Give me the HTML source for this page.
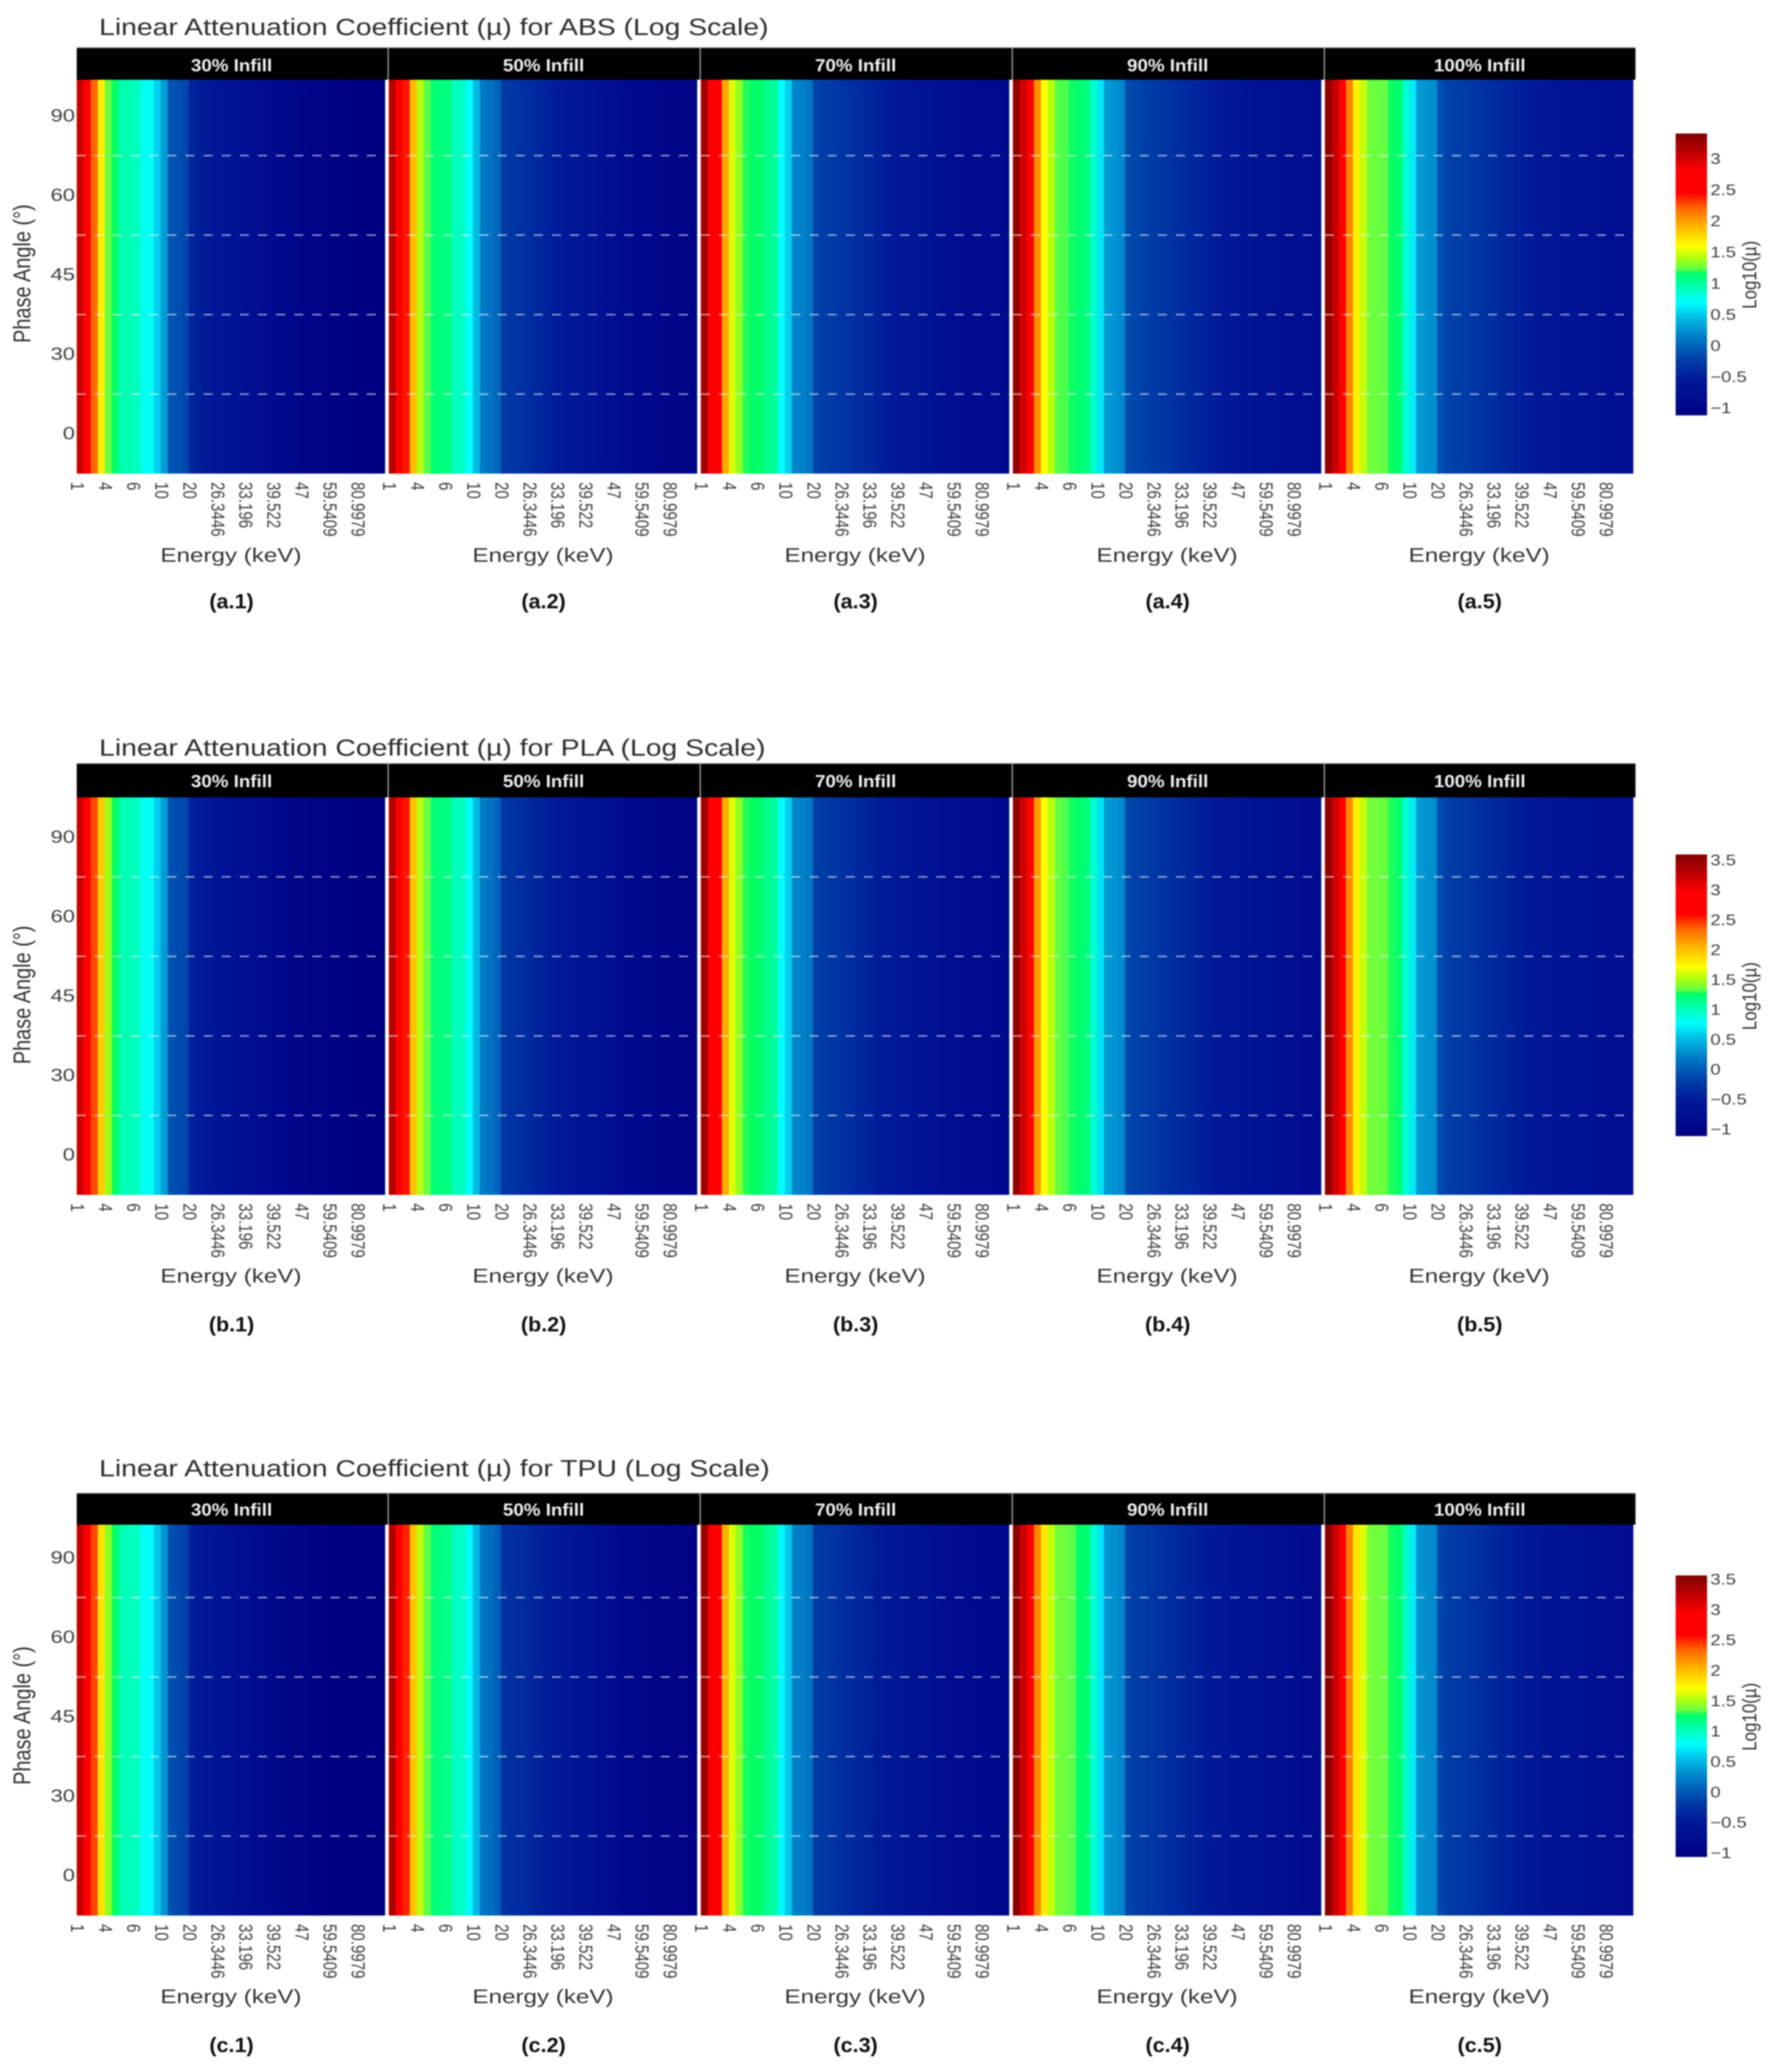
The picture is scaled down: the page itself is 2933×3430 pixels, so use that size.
<!DOCTYPE html>
<html lang="en">
<head>
<meta charset="utf-8">
<title>Linear Attenuation Coefficient heatmaps</title>
<style>
html,body{margin:0;padding:0;background:#fff;}
#figure{display:block;width:2933px;height:3430px;filter:blur(1px);font-family:"Liberation Sans",Arial,sans-serif;}
</style>
</head>
<body>
<svg id="figure" xmlns="http://www.w3.org/2000/svg" width="2933" height="3430" viewBox="0 0 2933 3430">
<rect x="0" y="0" width="2933" height="3430" fill="#ffffff"></rect>
<defs id="defs"></defs>
</svg>
<script>
// ---- categories ----
const infills = ["30% Infill","50% Infill","70% Infill","90% Infill","100% Infill"];
const angles = [0,30,45,60,90];
const energies = [1,1.5,2,3,4,4.5,5,5.5,6,7,8,9,10,12,14,16,20,21.5,23,24.5,26.3446,28,29.5,31.5,33.196,34.5,36,38,39.522,41,43,45,47,50,53,56,59.5409,64,69,75,80.9979,85,90,100];

// ---- log10(mu) by energy (no visible variation with angle) ----
const absInfill30 = [3.04,2.65,2.2,1.66,1.24,1.16,.94,.92,.9,.74,.72,.52,.28,-.1,-.13,-.17,-.46,-.5,-.55,-.6,-.63,-.67,-.7,-.73,-.77,-.8,-.83,-.86,-.89,-.92,-.94,-.96,-.98,-1,-1.02,-1.03,-1.05,-1.06,-1.07,-1.08,-1.09,-1.1,-1.1,-1.11];
const absInfill50 = [3.13,2.65,2.4,1.88,1.42,1.22,1.12,1.1,1.08,.9,.88,.69,.44,.12,.08,0,-.27,-.3,-.33,-.36,-.4,-.43,-.47,-.5,-.53,-.56,-.6,-.63,-.66,-.7,-.74,-.78,-.82,-.85,-.88,-.9,-.92,-.94,-.96,-.97,-.98,-.99,-1,-1.01];
const absInfill70 = [3.24,2.8,2.47,1.97,1.5,1.33,1.18,1.16,1.15,1.05,1,.69,.52,.18,.16,.1,-.2,-.23,-.26,-.29,-.32,-.35,-.38,-.42,-.45,-.48,-.52,-.55,-.58,-.61,-.64,-.67,-.7,-.73,-.76,-.78,-.8,-.82,-.84,-.85,-.86,-.87,-.88,-.89];
const absInfill90 = [3.3,3,2.7,2.05,1.59,1.42,1.22,1.21,1.17,1.14,1.1,.85,.6,.28,.25,.2,-.15,-.18,-.21,-.24,-.27,-.3,-.33,-.36,-.39,-.42,-.45,-.48,-.51,-.54,-.57,-.6,-.63,-.66,-.69,-.71,-.73,-.75,-.77,-.78,-.8,-.81,-.82,-.83];
const absInfill100 = [3.3,3.05,2.72,2.1,1.65,1.45,1.25,1.24,1.23,1.17,1.15,.85,.62,.28,.25,.22,-.12,-.2,-.22,-.24,-.27,-.3,-.33,-.36,-.39,-.42,-.45,-.48,-.51,-.54,-.57,-.6,-.62,-.64,-.66,-.68,-.7,-.72,-.73,-.74,-.76,-.77,-.78,-.79];

const plaInfill30 = [3.21,2.81,2.41,1.94,1.47,1.26,1.02,1,.98,.81,.79,.58,.34,-.08,-.11,-.15,-.46,-.5,-.55,-.6,-.64,-.68,-.71,-.74,-.78,-.81,-.84,-.87,-.9,-.93,-.95,-.97,-.99,-1.01,-1.03,-1.04,-1.05,-1.06,-1.07,-1.08,-1.09,-1.1,-1.1,-1.11];
const plaInfill50 = [3.31,2.81,2.55,1.97,1.53,1.33,1.21,1.19,1.17,.99,.97,.76,.5,.17,.13,.05,-.26,-.29,-.33,-.36,-.4,-.44,-.47,-.5,-.54,-.57,-.6,-.63,-.67,-.71,-.75,-.79,-.82,-.85,-.88,-.9,-.92,-.94,-.96,-.97,-.98,-.99,-1,-1.01];
const plaInfill70 = [3.43,2.96,2.6,2.08,1.62,1.43,1.28,1.26,1.24,1.13,1.09,.76,.58,.24,.22,.16,-.19,-.22,-.25,-.29,-.32,-.35,-.39,-.42,-.45,-.49,-.52,-.55,-.58,-.61,-.64,-.67,-.7,-.73,-.76,-.78,-.8,-.82,-.84,-.85,-.86,-.87,-.88,-.89];
const plaInfill90 = [3.5,3.18,2.81,2.14,1.71,1.53,1.33,1.31,1.27,1.24,1.2,.93,.66,.34,.31,.26,-.14,-.17,-.2,-.23,-.27,-.3,-.33,-.36,-.39,-.42,-.45,-.48,-.51,-.54,-.57,-.6,-.63,-.66,-.69,-.71,-.73,-.75,-.77,-.78,-.8,-.81,-.82,-.83];
const plaInfill100 = [3.5,3.2,2.84,2.2,1.77,1.56,1.36,1.35,1.34,1.28,1.25,.93,.69,.34,.31,.28,-.11,-.18,-.21,-.24,-.27,-.3,-.33,-.36,-.39,-.42,-.45,-.48,-.51,-.54,-.57,-.6,-.62,-.64,-.66,-.68,-.7,-.72,-.73,-.74,-.76,-.77,-.78,-.79];

const tpuInfill30 = [3.21,2.81,2.41,1.84,1.44,1.26,1.02,1,.98,.81,.79,.58,.34,-.06,-.09,-.13,-.44,-.48,-.53,-.58,-.62,-.66,-.69,-.72,-.76,-.79,-.82,-.85,-.88,-.91,-.93,-.95,-.97,-.99,-1.01,-1.02,-1.04,-1.05,-1.06,-1.07,-1.07,-1.07,-1.07,-1.07];
const tpuInfill50 = [3.31,2.81,2.5,1.97,1.55,1.33,1.21,1.19,1.17,.99,.97,.76,.5,.17,.13,.05,-.25,-.28,-.31,-.34,-.38,-.41,-.45,-.48,-.51,-.54,-.58,-.61,-.64,-.68,-.72,-.76,-.8,-.83,-.86,-.88,-.9,-.92,-.94,-.95,-.96,-.97,-.98,-.99];
const tpuInfill70 = [3.43,2.96,2.6,2.05,1.62,1.43,1.28,1.27,1.25,1.13,1.09,.76,.58,.24,.22,.16,-.18,-.21,-.24,-.27,-.3,-.33,-.36,-.4,-.43,-.46,-.5,-.53,-.56,-.59,-.62,-.65,-.68,-.71,-.74,-.76,-.78,-.8,-.82,-.83,-.84,-.85,-.86,-.87];
const tpuInfill90 = [3.5,3.18,2.81,2.2,1.8,1.56,1.36,1.35,1.33,1.26,1.24,.95,.69,.34,.31,.26,-.12,-.16,-.19,-.22,-.25,-.28,-.31,-.34,-.37,-.4,-.43,-.46,-.49,-.52,-.55,-.58,-.61,-.64,-.67,-.69,-.71,-.73,-.75,-.76,-.78,-.79,-.8,-.81];
const tpuInfill100 = [3.5,3.2,2.84,2.24,1.82,1.63,1.37,1.36,1.35,1.28,1.26,1,.72,.34,.31,.28,-.1,-.18,-.2,-.22,-.25,-.28,-.31,-.34,-.37,-.4,-.43,-.46,-.49,-.52,-.55,-.58,-.6,-.62,-.64,-.66,-.68,-.7,-.71,-.72,-.74,-.75,-.76,-.77];

// ---- colour-bar tick labels and value ranges ----
const absLegendTicks = [-1,-0.5,0,0.5,1,1.5,2,2.5,3];
const plaLegendTicks = [-1,-0.5,0,0.5,1,1.5,2,2.5,3,3.5];
const tpuLegendTicks = [-1,-0.5,0,0.5,1,1.5,2,2.5,3,3.5];
const absRange = [-1.12,3.4];
const plaRange = [-1.12,3.59];
const tpuRange = [-1.07,3.56];

const rows = [
 {key:"a",material:"ABS",series:[absInfill30,absInfill50,absInfill70,absInfill90,absInfill100],range:absRange,ticks:absLegendTicks,
  titleY:58,titleW:1108,stripTop:79,stripTextY:118,plotTop:132,plotBottom:784,axisY:930,captionY:1007,barTop:221,barBottom:687.6},
 {key:"b",material:"PLA",series:[plaInfill30,plaInfill50,plaInfill70,plaInfill90,plaInfill100],range:plaRange,ticks:plaLegendTicks,
  titleY:1251,titleW:1103,stripTop:1264,stripTextY:1303,plotTop:1320,plotBottom:1978,axisY:2123,captionY:2204,barTop:1414.5,barBottom:1880.7},
 {key:"c",material:"TPU",series:[tpuInfill30,tpuInfill50,tpuInfill70,tpuInfill90,tpuInfill100],range:tpuRange,ticks:tpuLegendTicks,
  titleY:2444,titleW:1110,stripTop:2472,stripTextY:2509,plotTop:2524,plotBottom:3171,axisY:3316,captionY:3397,barTop:2608,barBottom:3074}
];

const colorStops = [
 [0,"#000080"],[.06,"#000c90"],[.128,"#001a98"],[.2,"#0040a8"],[.283,"#0080c8"],[.35,"#00c0e8"],
 [.4,"#00ffff"],[.46,"#00ffaa"],[.505,"#00ff66"],[.52,"#66ff44"],[.555,"#a8ff10"],[.6,"#ffff00"],
 [.675,"#ffb000"],[.733,"#ff6a00"],[.79,"#ff0000"],[.865,"#ff0000"],[.94,"#b80000"],[1,"#800000"]
];

const NS = "http://www.w3.org/2000/svg";
const svg = document.getElementById("figure");
const panelLeft0 = 127, panelStep = 516.5, panelW = 510.5, bandH = 131.6;
const cellW = panelW / energies.length;

function mk(tag, parent, attrs){
  const el = document.createElementNS(NS, tag);
  for (const k in attrs) el.setAttribute(k, attrs[k]);
  parent.appendChild(el);
  return el;
}
function txt(parent, str, x, y, size, fill, anchor, sx, rot, weight){
  const el = mk("text", parent, {
    "font-size": size, fill: fill, "text-anchor": anchor, "font-weight": weight || "normal",
    transform: "translate(" + x + " " + y + ") scale(" + sx + " 1) rotate(" + rot + ")"
  });
  el.textContent = str;
  return el;
}
function hexToRgb(h){ return [1,3,5].map(i => parseInt(h.substr(i,2),16)); }
function colorAt(t){
  t = Math.max(0, Math.min(1, t));
  for (let i = 1; i < colorStops.length; i++){
    if (t <= colorStops[i][0]){
      const a = colorStops[i-1], b = colorStops[i];
      const f = (t - a[0]) / (b[0] - a[0]);
      const ca = hexToRgb(a[1]), cb = hexToRgb(b[1]);
      return "rgb(" + ca.map((c,j) => Math.round(c + (cb[j]-c)*f)).join(",") + ")";
    }
  }
  return colorStops[colorStops.length-1][1];
}
function xScale(panel, k){ return panelLeft0 + panel*panelStep + k*cellW; }
function yScale(row, angleIdx){ return row.plotBottom - (angleIdx+1)*bandH; }
function norm(row, v){ return (v - row.range[0]) / (row.range[1] - row.range[0]); }
function barY(row, v){ return row.barTop + (row.range[1]-v)/(row.range[1]-row.range[0])*(row.barBottom-row.barTop); }

const defs = document.getElementById("defs");
const grad = mk("linearGradient", defs, {id:"jetGrad", x1:"0", y1:"1", x2:"0", y2:"0"});
colorStops.forEach(s => { mk("stop", grad, {offset:s[0], "stop-color":s[1]}); });

rows.forEach(row => {
  const g = mk("g", svg, {});
  
  

  const title = mk("text", g, {x:164, y:row.titleY, "font-size":39, fill:"#2e2e2e", textLength:row.titleW, lengthAdjust:"spacingAndGlyphs"});
  title.textContent = "Linear Attenuation Coefficient (\u00b5) for " + row.material + " (Log Scale)";
  
  

  // heatmap panels
  infills.forEach((inf, p) => {
    const pg = mk("g", g, {});
    
    
    const values = row.series[p];
    angles.forEach((ang, a) => {
      const top = Math.max(row.plotTop, yScale(row, a));
      const bottom = yScale(row, a) + bandH;
      values.forEach((v, k) => {
        const isLast = k === values.length - 1;
        const cell = mk("rect", pg, {
          x: xScale(p, k).toFixed(2), y: top.toFixed(2),
          width: (cellW + (isLast ? 0 : 0.6)).toFixed(2),
          height: (bottom - top + (a === 0 ? 0 : 0.5)).toFixed(2),
          fill: colorAt(norm(row, v))
        });
        
        
      });
    });
    // dashed separators between angle bands
    for (let a = 0; a < angles.length - 1; a++){
      const y = yScale(row, a);
      const dash = mk("line", pg, {
        x1: xScale(p, 0), x2: xScale(p, energies.length), y1: y, y2: y,
        stroke: "#ffffff", "stroke-opacity": 0.55, "stroke-width": 2.6, "stroke-dasharray": "15 15"
      });
      
      
    }
    // x tick labels, every fourth energy
    energies.forEach((e, k) => {
      if (k % 4 !== 0) return;
      const t = txt(pg, String(e), xScale(p, k) + 2, row.plotBottom + 14, 25, "#404040", "start", 1.25, 90);
      t.setAttribute('dy', '.36em');
      
      
    });
    const axisT = txt(pg, "Energy (keV)", xScale(p, 0) + panelW/2, row.axisY, 32, "#333333", "middle", 1.25, 0);
    
    
    const cap = txt(pg, "(" + row.key + "." + (p+1) + ")", xScale(p, 0) + panelW/2 + 1, row.captionY, 34, "#111111", "middle", 1.05, 0, "bold");
    
    
  });

  // facet strips (drawn above the cells)
  const stripH = row.plotTop - row.stripTop;
  const stripBg = mk("rect", g, {x:panelLeft0, y:row.stripTop, width:2707-panelLeft0, height:stripH, fill:"#000000"});
  
  
  const stripLine = mk("line", g, {x1:panelLeft0, x2:2707, y1:row.stripTop, y2:row.stripTop, stroke:"#8a8a8a", "stroke-width":1.5});
  
  
  infills.forEach((inf, p) => {
    if (p > 0){
      const sep = mk("line", g, {x1:xScale(p,0)-1, x2:xScale(p,0)-1, y1:row.stripTop, y2:row.plotTop, stroke:"#9a9a9a", "stroke-width":2.2});
      
      
    }
    const st = txt(g, inf, xScale(p,0) + panelW/2 + 1, row.stripTextY, 29, "#f0f0f0", "middle", 1.07, 0, "bold");
    
    
  });

  // y axis
  angles.forEach((ang, a) => {
    const yc = yScale(row, a) + bandH/2;
    const t = txt(g, String(ang), 124, yc + 9, 29, "#404040", "end", 1.25, 0);
    
    
  });
  const yTitle = txt(g, "Phase Angle (\u00b0)", 50, row.plotBottom - 331, 33, "#333333", "middle", 1.2, -90);
  
  

  // colour bar
  const bar = mk("rect", g, {x:2773.5, y:row.barTop, width:52, height:row.barBottom-row.barTop, fill:"url(#jetGrad)"});
  
  
  row.ticks.forEach(v => {
    const s = (v < 0 ? "\u2212" : "") + String(Math.abs(v));
    const t = txt(g, s, 2831, barY(row, v) + 9, 25, "#404040", "start", 1.22, 0);
    
    
  });
  const cbTitle = txt(g, "Log10(\u00b5)", 2907, row.plotBottom - 329, 28, "#333333", "middle", 1.2, -90);
  
  
});
</script>
</body>
</html>
